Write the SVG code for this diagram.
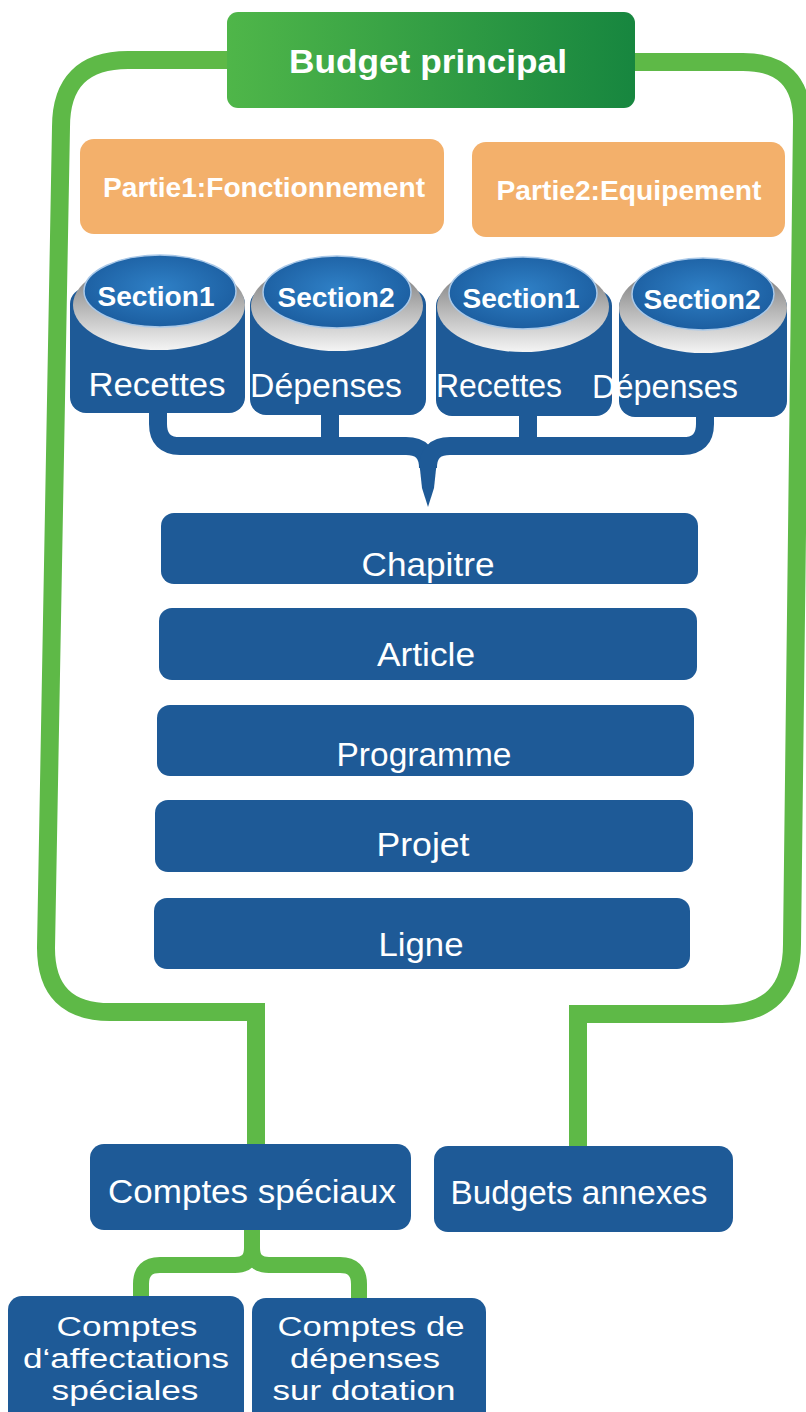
<svg xmlns="http://www.w3.org/2000/svg" width="806" height="1412" viewBox="0 0 806 1412">
<defs>
<linearGradient id="gBudget" x1="0" y1="0" x2="1" y2="0">
<stop offset="0" stop-color="#4fb649"/>
<stop offset="1" stop-color="#17863f"/>
</linearGradient>
<radialGradient id="gEll" cx="0.5" cy="0.45" r="0.6">
<stop offset="0" stop-color="#2f80c6"/>
<stop offset="1" stop-color="#1a5b9d"/>
</radialGradient>
<linearGradient id="gShadow" x1="0" y1="0" x2="0" y2="1">
<stop offset="0" stop-color="#6e6e6e"/>
<stop offset="0.55" stop-color="#b9b9b9"/>
<stop offset="1" stop-color="#f4f4f4"/>
</linearGradient>
<style>
.blue{fill:#1e5a97}
.orange{fill:#f3b06b}
.t{font-family:"Liberation Sans",Arial,sans-serif;fill:#ffffff;text-anchor:middle}
.b{font-weight:bold}
.lvl{font-size:33px}
.sub{font-size:27px}
.sec{font-size:27px;font-weight:bold}
.green{fill:none;stroke:#5eb947;stroke-width:18;stroke-linejoin:miter}
.green2{fill:none;stroke:#5eb947;stroke-width:16}
.bl{fill:none;stroke:#1e5a97;stroke-width:18}
.ell{fill:url(#gEll);stroke:#a9c8e8;stroke-width:1.5}
.sh{fill:url(#gShadow)}
</style>
</defs>

<g id="connectors">
<path class="green" d="M230,60 H128 Q61,60 61,127 L46,948 Q46,1012 110,1012 H256 V1146"/>
<path class="green" d="M632,62 H743 Q802,62 802,121 L792,944 Q792,1014 722,1014 H578 V1149"/>
<path class="bl" d="M158,408 V424 Q158,446 180,446 H406 Q428,446 428,468"/>
<path class="bl" d="M705,410 V424 Q705,446 683,446 H450 Q428,446 428,468"/>
<path class="bl" d="M330,410 V446 M528,412 V446"/>
<polygon class="blue" points="419,460 437,460 434,488 428,507 422,488"/>
<path class="green2" d="M252,1226 V1248 Q252,1265 235,1265 H160 Q141,1265 141,1284 V1300"/>
<path class="green2" d="M252,1248 Q252,1265 269,1265 H340 Q359,1265 359,1284 V1300"/>
</g>

<g id="budget-principal">
<rect x="227" y="12" width="408" height="96" rx="11" fill="url(#gBudget)"/>
<text class="t b" x="428" y="73" font-size="34" textLength="278" lengthAdjust="spacingAndGlyphs">Budget principal</text>
</g>

<g id="partie1">
<rect class="orange" x="80" y="139" width="364" height="95" rx="14"/>
<text class="t b" x="264" y="197" font-size="28" textLength="322" lengthAdjust="spacingAndGlyphs">Partie1:Fonctionnement</text>
</g>

<g id="partie2">
<rect class="orange" x="472" y="142" width="313" height="95" rx="14"/>
<text class="t b" x="629" y="200" font-size="28" textLength="265" lengthAdjust="spacingAndGlyphs">Partie2:Equipement</text>
</g>

<g id="section1-recettes">
<rect class="blue" x="70" y="288" width="175" height="125" rx="16"/>
<ellipse class="sh" cx="159" cy="305" rx="86" ry="45"/>
<ellipse class="ell" cx="160" cy="291" rx="76" ry="36"/>
<text class="t sec" x="156" y="306" textLength="117" lengthAdjust="spacingAndGlyphs">Section1</text>
<text class="t" x="157" y="396" font-size="34" textLength="137" lengthAdjust="spacingAndGlyphs">Recettes</text>
</g>

<g id="section2-depenses">
<rect class="blue" x="250" y="289" width="176" height="126" rx="16"/>
<ellipse class="sh" cx="337" cy="306" rx="86" ry="45"/>
<ellipse class="ell" cx="337" cy="292" rx="74" ry="36"/>
<text class="t sec" x="336" y="307" textLength="117" lengthAdjust="spacingAndGlyphs">Section2</text>
<text class="t" x="326" y="397" font-size="34" textLength="152" lengthAdjust="spacingAndGlyphs">Dépenses</text>
</g>

<g id="section1-recettes-2">
<rect class="blue" x="436" y="290" width="176" height="126" rx="16"/>
<ellipse class="sh" cx="523" cy="307" rx="86" ry="45"/>
<ellipse class="ell" cx="523" cy="293" rx="74" ry="36"/>
<text class="t sec" x="521" y="308" textLength="117" lengthAdjust="spacingAndGlyphs">Section1</text>
<text class="t" x="499" y="397" font-size="34" textLength="126" lengthAdjust="spacingAndGlyphs">Recettes</text>
</g>

<g id="section2-depenses-2">
<rect class="blue" x="619" y="291" width="168" height="126" rx="16"/>
<ellipse class="sh" cx="703" cy="308" rx="84" ry="45"/>
<ellipse class="ell" cx="703" cy="294" rx="71" ry="36"/>
<text class="t sec" x="702" y="309" textLength="117" lengthAdjust="spacingAndGlyphs">Section2</text>
<text class="t" x="665" y="398" font-size="34" textLength="146" lengthAdjust="spacingAndGlyphs">Dépenses</text>
</g>

<g id="chapitre">
<rect class="blue" x="161" y="513" width="537" height="71" rx="13"/>
<text class="t lvl" x="428" y="576" textLength="133" lengthAdjust="spacingAndGlyphs">Chapitre</text>
</g>

<g id="article">
<rect class="blue" x="159" y="608" width="538" height="72" rx="13"/>
<text class="t lvl" x="426" y="666" textLength="98" lengthAdjust="spacingAndGlyphs">Article</text>
</g>

<g id="programme">
<rect class="blue" x="157" y="705" width="537" height="71" rx="13"/>
<text class="t lvl" x="424" y="766" textLength="175" lengthAdjust="spacingAndGlyphs">Programme</text>
</g>

<g id="projet">
<rect class="blue" x="155" y="800" width="538" height="72" rx="13"/>
<text class="t lvl" x="423" y="856" textLength="93" lengthAdjust="spacingAndGlyphs">Projet</text>
</g>

<g id="ligne">
<rect class="blue" x="154" y="898" width="536" height="71" rx="13"/>
<text class="t lvl" x="421" y="956" textLength="85" lengthAdjust="spacingAndGlyphs">Ligne</text>
</g>

<g id="comptes-speciaux">
<rect class="blue" x="90" y="1144" width="321" height="86" rx="14"/>
<text class="t lvl" x="252" y="1203" textLength="288" lengthAdjust="spacingAndGlyphs">Comptes spéciaux</text>
</g>

<g id="budgets-annexes">
<rect class="blue" x="434" y="1146" width="299" height="86" rx="14"/>
<text class="t lvl" x="579" y="1204" textLength="257" lengthAdjust="spacingAndGlyphs">Budgets annexes</text>
</g>

<g id="comptes-affectations-speciales">
<rect class="blue" x="8" y="1296" width="236" height="130" rx="14"/>
<text class="t sub" x="127" y="1336" textLength="141" lengthAdjust="spacingAndGlyphs">Comptes</text>
<text class="t sub" x="126" y="1368" textLength="206" lengthAdjust="spacingAndGlyphs">d‘affectations</text>
<text class="t sub" x="125" y="1400" textLength="147" lengthAdjust="spacingAndGlyphs">spéciales</text>
</g>

<g id="comptes-depenses-dotation">
<rect class="blue" x="252" y="1298" width="234" height="130" rx="14"/>
<text class="t sub" x="371" y="1336" textLength="187" lengthAdjust="spacingAndGlyphs">Comptes de</text>
<text class="t sub" x="365" y="1368" textLength="150" lengthAdjust="spacingAndGlyphs">dépenses</text>
<text class="t sub" x="364" y="1400" textLength="183" lengthAdjust="spacingAndGlyphs">sur dotation</text>
</g>
</svg>
